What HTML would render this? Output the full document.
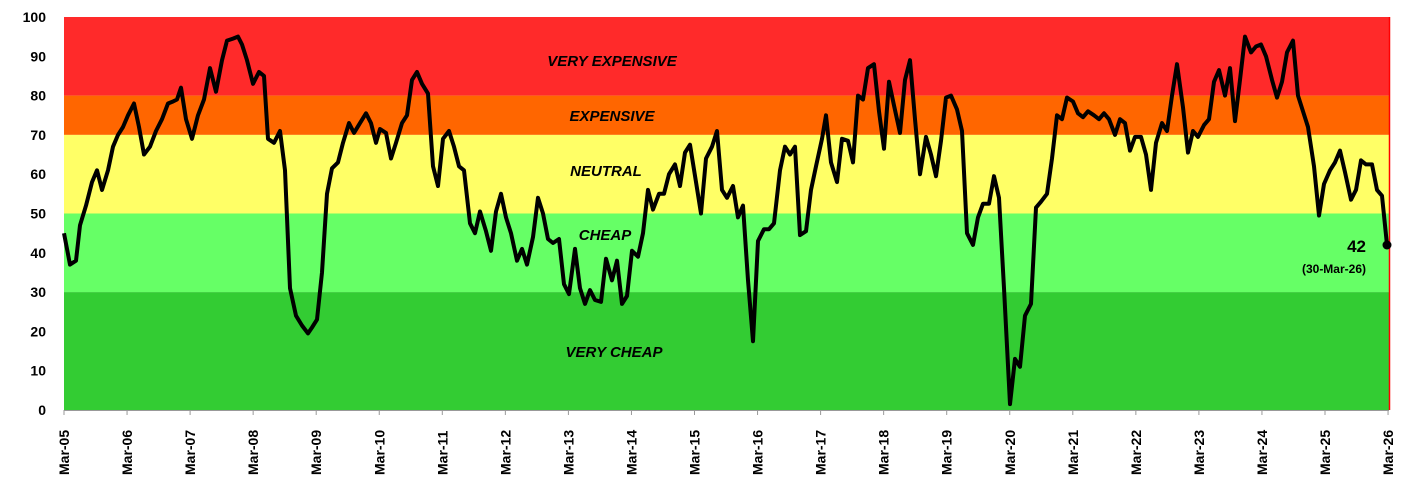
<!DOCTYPE html>
<html><head><meta charset="utf-8"><style>
body{margin:0;background:#fff}
svg{display:block;font-family:"Liberation Sans",sans-serif}
</style></head><body>
<svg id="s" width="1420" height="502" viewBox="0 0 1420 502">
<rect x="64" y="17" width="1325" height="78.6" fill="#FF2A2A"/>
<rect x="64" y="95.6" width="1325" height="39.3" fill="#FF6600"/>
<rect x="64" y="134.9" width="1325" height="78.6" fill="#FFFF66"/>
<rect x="64" y="213.5" width="1325" height="78.6" fill="#66FF66"/>
<rect x="64" y="292.1" width="1325" height="117.9" fill="#33CC33"/>
<line x1="1389.5" y1="17" x2="1389.5" y2="410" stroke="#FF0000" stroke-width="1.5"/>
<line x1="64" y1="410.5" x2="1389" y2="410.5" stroke="#999" stroke-width="1"/>
<g font-weight="bold" font-style="italic" font-size="15" text-anchor="middle" fill="#000">
<text x="612" y="66">VERY EXPENSIVE</text>
<text x="612" y="121">EXPENSIVE</text>
<text x="606" y="176">NEUTRAL</text>
<text x="605" y="240">CHEAP</text>
<text x="614" y="357">VERY CHEAP</text>
</g>
<g id="yl" font-weight="bold" font-size="14" text-anchor="end"></g>
<g id="xl" font-weight="bold" font-size="14"></g>
<path id="p" fill="none" stroke="#000" stroke-width="4" stroke-linejoin="round"/>
<circle cx="1387" cy="245" r="4.5" fill="#000"/>
<text x="1366" y="252" font-weight="bold" font-size="17" text-anchor="end">42</text>
<text x="1366" y="273" font-weight="bold" font-size="12" text-anchor="end">(30-Mar-26)</text>
</svg>
<script>
var d=[64,45,70,37,76,38,80,47,86,52,92,58,97,61,102,56,108,61,113,67,118,70,123,72,128,75,134,78,139,72,144,65,150,67,156,71,162,74,168,78,173,78.5,177,79,181,82,186,74,192,69,198,75,204,79,210,87,216,81,222,89,227,94,233,94.5,238,95,242,93,247,89,253,83,259,86,264,85,268,69,274,68,280,71,285,61,290,31,296,24,302,21.5,308,19.5,312,21,317,23,322,35,327,55,332,61.5,338,63,343,68,349,73,354,70.5,360,73,366,75.5,371,73,376,68,380,71.5,386,70.5,391,64,396,68,402,73,407,75,412,84,417,86,422,83,428,80.5,433,62,438,57,443,69,449,71,454,67,459,62,464,61,470,47.5,475,45,480,50.5,486,45.5,491,40.5,496,50.5,501,55,506,49,511,45,517,38,522,41,527,37,533,44,538,54,543,50,548,43.5,553,42.5,559,43.5,564,32,569,29.5,575,41,580,31,585,27,590,30.5,595,28,601,27.5,606,38.5,612,33,617,38,622,27,627,29,632,40.5,638,39,643,45,648,56,653,51,659,55,664,55,669,60,675,62.5,680,57,685,65.5,690,67.5,696,58,701,50,706,64,712,67,717,71,722,56,727,54,733,57,738,49,743,52,748,33,753,17.5,758,43,764,46,769,46,774,47.5,780,61,785,67,790,65,795,67,800,44.5,806,45.5,811,56,816,62,822,69,826,75,831,63,837,58,842,69,848,68.5,853,63,858,80,863,79,868,87,874,88,879,76,884,66.5,889,83.5,894,77.5,900,70.5,905,84,910,89,915,74,920,60,926,69.5,931,65,936,59.5,941,68.5,946,79.5,951,80,957,76.5,962,71,967,45,973,42,978,49,983,52.5,989,52.5,994,59.5,999,54,1004,31,1010,1.5,1015,13,1020,11,1025,24,1031,27,1036,51.5,1041,53,1047,55,1052,64,1057,75,1062,74,1067,79.5,1073,78.5,1078,75.5,1083,74.5,1088,76,1094,75,1099,74,1104,75.5,1109,74,1115,70,1120,74,1125,73,1130,66,1135,69.5,1141,69.5,1146,65,1151,56,1156,68,1162,73,1167,71,1172,80,1177,88,1183,77,1188,65.5,1193,71,1198,69.5,1204,72.5,1209,74,1214,83.5,1219,86.5,1225,80,1230,87,1235,73.5,1240,84,1245,95,1251,91,1256,92.5,1261,93,1266,90,1272,84,1277,79.5,1282,83.5,1287,91,1293,94,1298,80,1303,76,1308,72,1314,62,1319,49.5,1324,57.5,1330,61,1335,63,1340,66,1345,60.5,1351,53.5,1356,56,1361,63.5,1366,62.5,1372,62.5,1377,56,1382,54.5,1387,42];
var s="";for(var i=0;i<d.length;i+=2){s+=(i?"L":"M")+d[i]+","+(410-d[i+1]*3.93).toFixed(1);}
document.getElementById("p").setAttribute("d",s);
var ns="http://www.w3.org/2000/svg",yl=document.getElementById("yl"),xl=document.getElementById("xl");
for(var v=0;v<=100;v+=10){var t=document.createElementNS(ns,"text");t.setAttribute("x",46);t.setAttribute("y",410-v*3.93+5);t.textContent=v;yl.appendChild(t);}
for(var k=0;k<=21;k++){var x=64+k*63.05;var l=document.createElementNS(ns,"line");l.setAttribute("x1",x);l.setAttribute("x2",x);l.setAttribute("y1",410);l.setAttribute("y2",415);l.setAttribute("stroke","#999");xl.appendChild(l);
var t=document.createElementNS(ns,"text");t.setAttribute("transform","translate("+(x+5)+",475) rotate(-90)");t.textContent="Mar-"+String(5+k).padStart(2,"0");xl.appendChild(t);}
</script>
</body></html>
